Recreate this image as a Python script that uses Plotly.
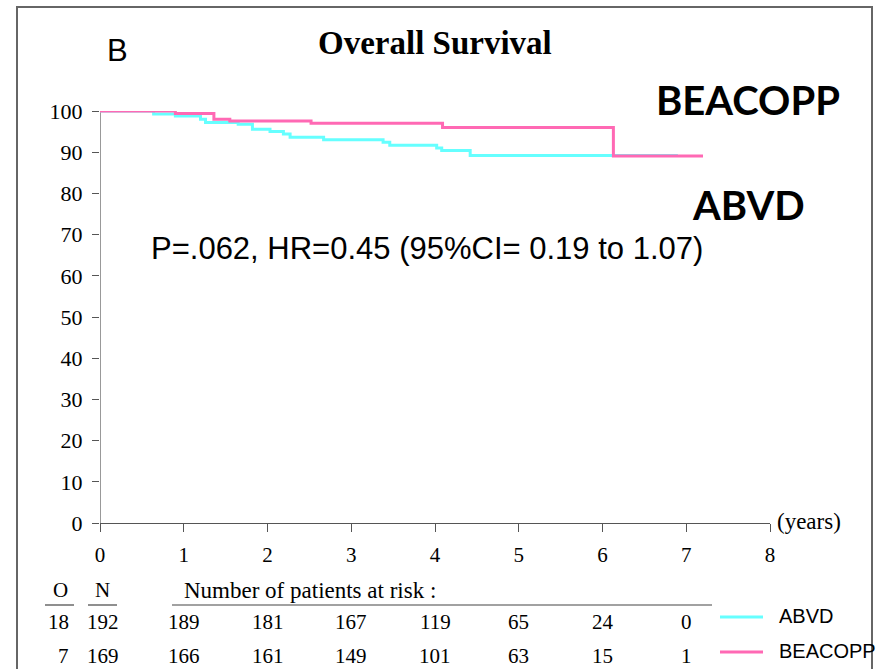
import plotly.graph_objects as go

W, H = 886, 669

# ---- data ----
abvd_years = [0, 0.64, 0.90, 1.20, 1.26, 1.65, 1.82, 2.03, 2.19, 2.27, 2.67, 3.38, 3.46, 4.02, 4.08, 4.42, 6.90]
abvd_surv = [100, 99.3, 98.8, 98.0, 97.2, 96.8, 95.6, 95.0, 94.4, 93.6, 93.0, 92.4, 91.7, 91.0, 90.4, 89.2, 89.2]
beacopp_years = [0, 0.90, 1.36, 1.55, 2.52, 4.09, 6.13, 7.20]
beacopp_surv = [100, 99.4, 98.0, 97.6, 97.0, 96.0, 89.1, 89.1]

x_ticks = [0, 1, 2, 3, 4, 5, 6, 7, 8]
y_ticks = [0, 10, 20, 30, 40, 50, 60, 70, 80, 90, 100]

risk_years = [1, 2, 3, 4, 5, 6, 7]
abvd_at_risk = [189, 181, 167, 119, 65, 24, 0]
beacopp_at_risk = [166, 161, 149, 101, 63, 15, 1]
abvd_O, abvd_N = 18, 192
beacopp_O, beacopp_N = 7, 169

series_names = ["ABVD", "BEACOPP"]
CYAN = "#66ffff"
PINK = "#ff69b4"

SERIF = "Liberation Serif"
SANS = "Liberation Sans"


def px(x):
    return x / W


def py(y):
    return 1 - y / H


fig = go.Figure()
fig.add_trace(go.Scatter(x=abvd_years, y=abvd_surv, mode="lines", line=dict(color=CYAN, width=3, shape="hv"),
                         name=series_names[0], showlegend=False))
fig.add_trace(go.Scatter(x=beacopp_years, y=beacopp_surv, mode="lines", line=dict(color=PINK, width=3, shape="hv"),
                         name=series_names[1], showlegend=False))

ann = []
shapes = []


def text(t, x, y, font, xanchor="center", xref="paper"):
    ann.append(dict(text=t, x=x, y=py(y), xref=xref, yref="paper", xanchor=xanchor, yanchor="middle",
                    showarrow=False, font=font))


# frame
shapes.append(dict(type="rect", xref="paper", yref="paper", x0=px(17), x1=px(872), y0=-0.05, y1=py(7),
                   line=dict(color="#666666", width=2), layer="below"))
# y axis line
shapes.append(dict(type="line", xref="x", yref="y", x0=0, x1=0, y0=0, y1=100,
                   line=dict(color="#555555", width=1.2), layer="below"))

# texts
text("<b>Overall Survival</b>", px(435), 43, dict(family=SERIF, size=33, color="black"))
text("B", px(117), 50, dict(family=SANS, size=31, color="black"))
text("<b>BEACOPP</b>", px(748), 100, dict(family="Lato", size=40, color="black"))
text("<b>ABVD</b>", px(748), 205, dict(family="Lato", size=40, color="black"))
text("P=.062, HR=0.45 (95%CI= 0.19 to 1.07)", px(427), 249, dict(family=SANS, size=31, color="black"))
text("(years)", px(775), 521, dict(family=SERIF, size=23, color="black"), xanchor="left")

# at-risk table
tfont = dict(family=SERIF, size=21, color="black")
text("O", px(60), 590, tfont)
text("N", px(102), 590, tfont)
text("Number of patients at risk :", px(182), 590, dict(family=SERIF, size=23, color="black"), xanchor="left")
for x0, x1 in [(45, 74), (88, 117), (172, 712)]:
    shapes.append(dict(type="line", xref="paper", yref="paper", x0=px(x0), x1=px(x1), y0=py(605), y1=py(605),
                       line=dict(color="#444444", width=1.2)))

for row_y, o, n, vals in [(622, abvd_O, abvd_N, abvd_at_risk), (656, beacopp_O, beacopp_N, beacopp_at_risk)]:
    text(str(o), px(71), row_y, tfont, xanchor="right")
    text(str(n), 0.03, row_y, tfont, xref="x")
    for yr, v in zip(risk_years, vals):
        text(str(v), yr, row_y, tfont, xref="x")

# manual legend
for name, color, ly in [(series_names[0], CYAN, 617), (series_names[1], PINK, 652)]:
    shapes.append(dict(type="line", xref="paper", yref="paper", x0=px(720), x1=px(763), y0=py(ly), y1=py(ly),
                       line=dict(color=color, width=3)))
    text(name, px(777), ly - 1, dict(family=SANS, size=20, color="black"), xanchor="left")

fig.update_layout(
    width=W, height=H,
    margin=dict(l=0, r=0, t=0, b=0, autoexpand=False),
    paper_bgcolor="white", plot_bgcolor="white",
    showlegend=False,
    annotations=ann,
    shapes=shapes,
    xaxis=dict(domain=[px(100), px(770)], range=[0, 8], tickvals=x_ticks, ticks="outside", ticklen=8,
               tickcolor="#555555", showline=True, linecolor="#555555", linewidth=1.2, showgrid=False,
               zeroline=False, automargin=False,
               tickfont=dict(family=SERIF, size=21, color="black"), ticklabelstandoff=5),
    yaxis=dict(domain=[py(523), py(111)], range=[0, 100], tickvals=y_ticks, ticks="outside", ticklen=7,
               tickcolor="#555555", showline=False, showgrid=False, zeroline=False, automargin=False,
               tickfont=dict(family=SERIF, size=22, color="black"), ticklabelstandoff=5),
)

fig.write_html("out.html")
